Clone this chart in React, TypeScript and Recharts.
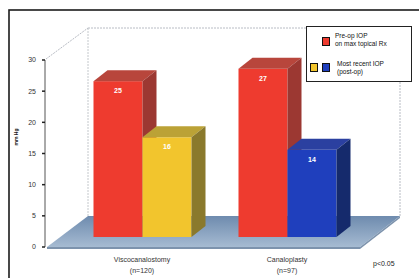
import {
  Bar,
  BarChart,
  Cell,
  Customized,
  LabelList,
  Legend,
  XAxis,
  YAxis,
} from "recharts";

const categories = ["Viscocanalostomy", "Canaloplasty"];
const groupSizes = ["(n=120)", "(n=97)"];
const preOpIop = [25, 27];
const postOpIop = [16, 14];
const yTicks = [0, 5, 10, 15, 20, 25, 30];

const RED = "#ee3b2f";
const YELLOW = "#f2c52d";
const BLUE = "#1f3fbd";
const postOpColors = [YELLOW, BLUE];

// darker faces for the fake 3D boxes
const FACES: Record<string, { top: string; side: string }> = {
  [RED]: { top: "#b8463c", side: "#9c3832" },
  [YELLOW]: { top: "#bba236", side: "#8a792c" },
  [BLUE]: { top: "#2b40a0", side: "#152a6c" },
};

const FONT = "'Liberation Sans', Arial, sans-serif";
const W = 419;
const H = 278;
// depth of the 3D look
const DX = 14;
const DY = 11;
const SINK = 10;

const data = categories.map((name, i) => ({
  name,
  n: groupSizes[i],
  preop: preOpIop[i],
  postop: postOpIop[i],
}));

function Box3D(props: any) {
  const { x, width, fill } = props;
  const y = props.y - SINK;
  const h = props.height;
  const faces = FACES[fill] ?? { top: fill, side: fill };
  return (
    <g>
      <rect x={x} y={y} width={width} height={h} fill={fill} />
      <polygon
        points={`${x},${y} ${x + DX},${y - DY} ${x + width + DX},${y - DY} ${x + width},${y}`}
        fill={faces.top}
      />
      <polygon
        points={`${x + width},${y} ${x + width + DX},${y - DY} ${x + width + DX},${y + h - DY} ${x + width},${y + h}`}
        fill={faces.side}
      />
    </g>
  );
}

function ValueLabel(props: any) {
  const { x, y, width, value } = props;
  return (
    <text
      x={x + width / 2}
      y={y - SINK + 12}
      textAnchor="middle"
      fill="#fff"
      fontSize={7}
      fontWeight="bold"
      fontFamily={FONT}
    >
      {value}
    </text>
  );
}

function CategoryTick(props: any) {
  const { x, y, payload, index } = props;
  return (
    <text x={x} y={y} textAnchor="middle" fill="#333" fontSize={7} fontFamily={FONT}>
      <tspan x={x} dy={7}>
        {payload.value}
      </tspan>
      <tspan x={x} dy={11}>
        {groupSizes[index]}
      </tspan>
    </text>
  );
}

// floor, back wall and outer frame
function Stage() {
  return (
    <g>
      <defs>
        <linearGradient id="floorFill" x1="0" y1="0" x2="0" y2="1">
          <stop offset="0%" stopColor="#6e8bae" />
          <stop offset="100%" stopColor="#a6bbd2" />
        </linearGradient>
      </defs>
      <line x1={88} y1={28} x2={400} y2={28} stroke="#b8bcc4" strokeDasharray="2 1" />
      <line x1={88} y1={28} x2={88} y2={216} stroke="#c4c8cc" strokeDasharray="2 1" />
      <line x1={400} y1={28} x2={400} y2={216} stroke="#b8bcc4" strokeDasharray="2 1" />
      <line x1={46} y1={59} x2={88} y2={28} stroke="#b8bcc4" strokeDasharray="2 1" />
      <polygon points="47,247 360,247 400,216 88,216" fill="url(#floorFill)" />
      <polygon points="47,247 360,247 360,249 47,249" fill="#7d93ad" />
      <polygon points="360,247 400,216 400,218 360,249" fill="#7d93ad" />
      <rect x={9} y={10} width={430} height={300} fill="none" stroke="#1c1c1c" strokeWidth={1.6} />
      <text x={373} y={266} fill="#222" fontSize={7} fontFamily={FONT}>
        p&lt;0.05
      </text>
    </g>
  );
}

const sw = (color: string) => ({
  position: "absolute" as const,
  width: 6,
  height: 7,
  background: color,
  border: "1px solid #111",
});

function LegendBox() {
  return (
    <div
      style={{
        position: "relative",
        width: 104,
        height: 54,
        border: "1px solid #222",
        background: "#fff",
        fontFamily: FONT,
        fontSize: 6.5,
        lineHeight: "8px",
        color: "#111",
      }}
    >
      <div style={{ ...sw(RED), left: 15, top: 10 }} />
      <div style={{ position: "absolute", left: 28, top: 5 }}>
        Pre-op IOP
        <br />
        on max topical Rx
      </div>
      <div style={{ ...sw(YELLOW), left: 3, top: 36 }} />
      <div style={{ ...sw(BLUE), left: 15, top: 36 }} />
      <div style={{ position: "absolute", left: 30, top: 33 }}>
        Most recent IOP
        <br />
        (post-op)
      </div>
    </div>
  );
}

export default function App() {
  return (
    <div style={{ position: "absolute", left: 0, top: 0, width: W, height: H, background: "#fff" }}>
      <BarChart
        width={W}
        height={H}
        data={data}
        margin={{ top: 60, right: 19, bottom: 1, left: 10 }}
        barGap={0}
        barSize={49}
      >
        <Customized component={<Stage />} />
        <XAxis
          dataKey="name"
          height={30}
          axisLine={false}
          tickLine={false}
          padding={{ left: 24.5, right: 40.5 }}
          tick={<CategoryTick />}
          interval={0}
        />
        <YAxis
          width={35}
          domain={[0, 30]}
          ticks={yTicks}
          tickSize={3}
          tickMargin={6}
          axisLine={{ stroke: "#555" }}
          tickLine={{ stroke: "#222", strokeWidth: 1.5 }}
          tick={{ fill: "#333", fontSize: 7, fontFamily: FONT }}
          label={{
            value: "mm Hg",
            angle: -90,
            position: "insideLeft",
            offset: 6,
            dy: -8,
            style: { fontSize: 5, fontWeight: "bold", fill: "#222", fontFamily: FONT },
          }}
        />
        <Legend
          layout="horizontal"
          verticalAlign="middle"
          align="center"
          wrapperStyle={{ left: 306, top: 26, width: 106, height: 56 }}
          content={() => <LegendBox />}
        />
        <Bar dataKey="preop" fill={RED} shape={Box3D} isAnimationActive={false}>
          <LabelList dataKey="preop" content={ValueLabel} />
        </Bar>
        <Bar dataKey="postop" fill={YELLOW} shape={Box3D} isAnimationActive={false}>
          {data.map((d, i) => (
            <Cell key={d.name} fill={postOpColors[i]} />
          ))}
          <LabelList dataKey="postop" content={ValueLabel} />
        </Bar>
      </BarChart>
    </div>
  );
}
